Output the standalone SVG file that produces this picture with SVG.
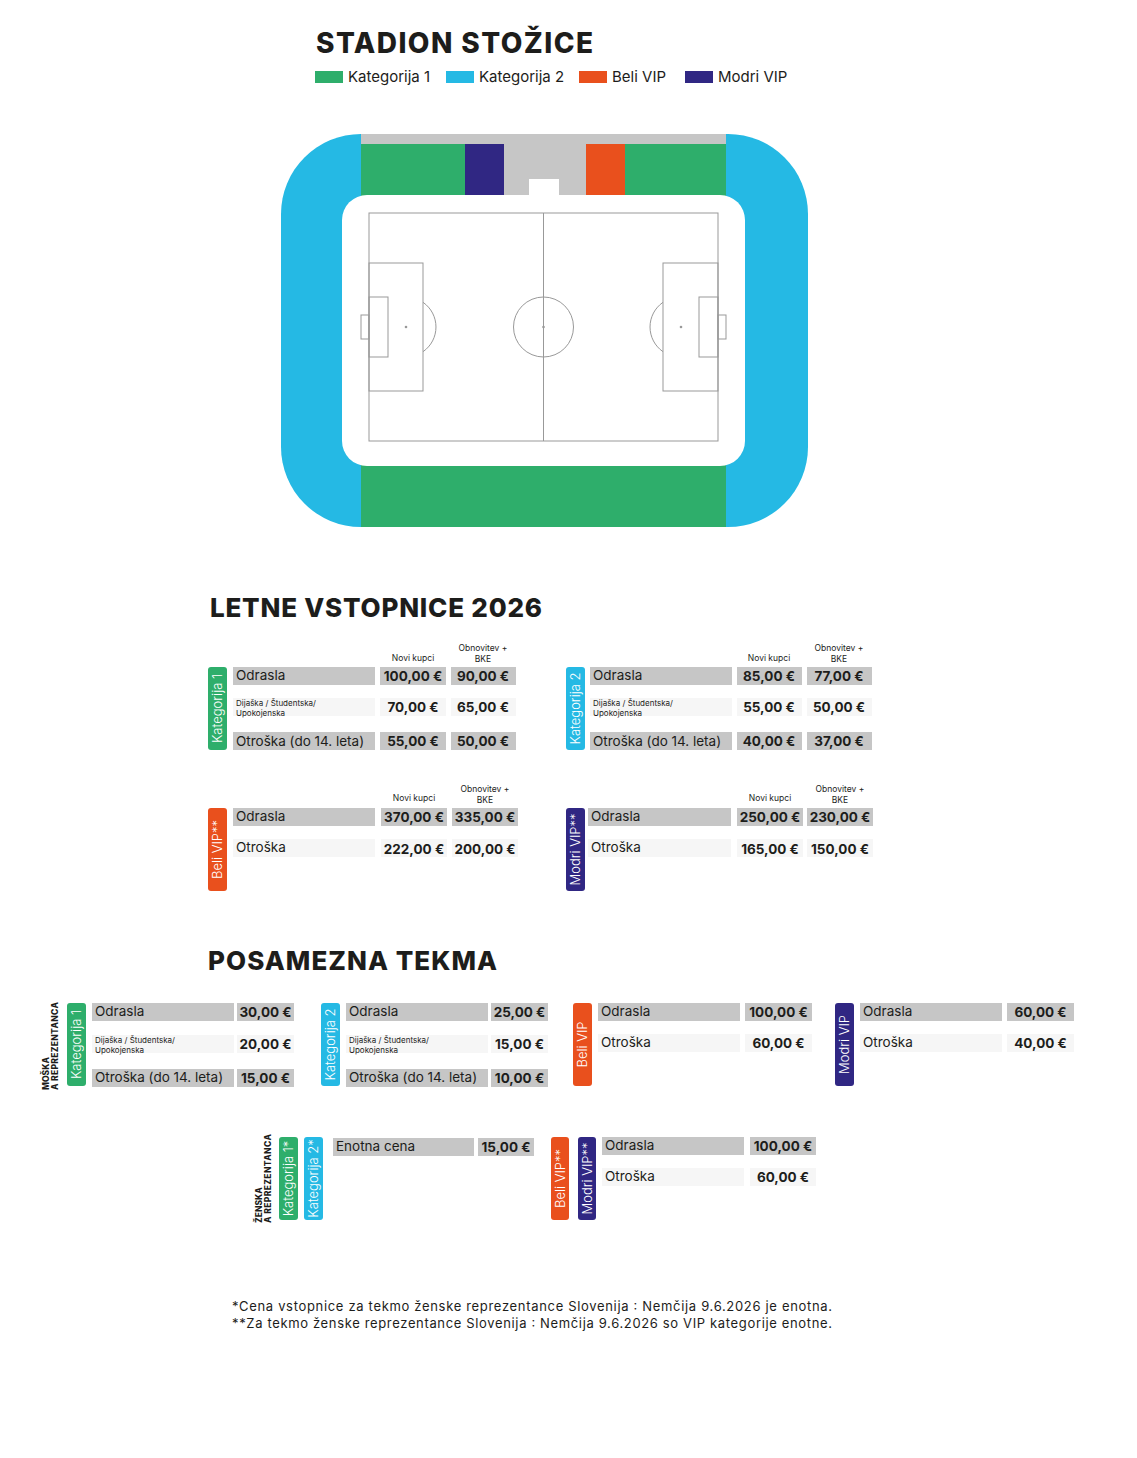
<svg xmlns="http://www.w3.org/2000/svg" width="1137" height="1458" viewBox="0 0 1137 1458">
<style>
text{font-family:"Inter","Liberation Sans",sans-serif;fill:#1d1d1b}
.t{font-weight:800;font-size:28px}
.lg{font-size:15px}
.g{fill:#c6c6c6}.l{fill:#f6f6f6}
.r{font-size:13.5px}
.s{font-size:8px}
.p{font-size:13.5px;font-weight:700;text-anchor:middle}
.h{font-size:8.5px;text-anchor:middle}
.pl{font-size:13px;fill:#fff;text-anchor:middle;font-weight:300}
.k1{fill:#2eae6b}.k2{fill:#25b9e4}.bv{fill:#e9501d}.mv{fill:#302783}
.pitch{fill:none;stroke:#999;stroke-width:1}
.f{font-size:13px}
.v{font-size:8.5px;font-weight:800}
</style>
<rect width="1137" height="1458" fill="#fff"/>
<text class="t" x="316" y="53" textLength="277">STADION STOŽICE</text>
<g id="legend">
<rect class="k1" x="315" y="71" width="28" height="12"/><text class="lg" x="348" y="82">Kategorija 1</text>
<rect class="k2" x="446" y="71" width="28" height="12"/><text class="lg" x="479" y="82">Kategorija 2</text>
<rect class="bv" x="579" y="71" width="28" height="12"/><text class="lg" x="612" y="82">Beli VIP</text>
<rect class="mv" x="685" y="71" width="28" height="12"/><text class="lg" x="718" y="82">Modri VIP</text>
</g>
<g id="stadium">
<rect class="k2" x="281" y="134" width="527" height="393" rx="80"/>
<rect class="k1" x="361" y="134" width="365" height="393"/>
<rect fill="#c6c6c6" x="361" y="134" width="365" height="10"/>
<rect class="mv" x="465" y="144" width="39" height="51"/>
<rect fill="#c6c6c6" x="504" y="144" width="82" height="51"/>
<rect fill="#fff" x="529" y="179" width="30" height="16"/>
<rect class="bv" x="586" y="144" width="39" height="51"/>
<rect fill="#fff" x="342" y="195" width="403" height="271" rx="25"/>
<g class="pitch">
<rect x="369" y="213" width="349" height="228"/>
<line x1="543.5" y1="213" x2="543.5" y2="441"/>
<circle cx="543.5" cy="327" r="30"/>
<rect x="369" y="263" width="54" height="128"/>
<rect x="369" y="297" width="19" height="60"/>
<rect x="361" y="315" width="8" height="24"/>
<path d="M423 302.3 A30 30 0 0 1 423 351.7"/>
<rect x="663" y="263" width="55" height="128"/>
<rect x="699" y="297" width="19" height="60"/>
<rect x="718" y="315" width="8" height="24"/>
<path d="M663 302.3 A30 30 0 0 0 663 351.7"/>
</g>
<circle cx="406" cy="327" r="1.3" fill="#999"/><circle cx="543.5" cy="327" r="1.3" fill="#999"/><circle cx="681" cy="327" r="1.3" fill="#999"/>
</g>
<text class="t" x="210" y="617" style="font-size:26px" textLength="332">LETNE VSTOPNICE 2026</text>
<g id="letne-k1">
<rect class="k1" x="208" y="667" width="19" height="83" rx="3"/><text class="pl" transform="translate(222,708.5) rotate(-90)">Kategorija 1</text>
<text class="h" x="413" y="661">Novi kupci</text><text class="h" x="483" y="651">Obnovitev +</text><text class="h" x="483" y="662">BKE</text>
<rect class="g" x="233" y="667" width="142" height="18"/><text class="r" x="236" y="680">Odrasla</text>
<rect class="g" x="380" y="667" width="66" height="18"/><text class="p" x="413" y="681">100,00 €</text>
<rect class="g" x="451" y="667" width="65" height="18"/><text class="p" x="483" y="681">90,00 €</text>
<rect class="l" x="233" y="698" width="142" height="18"/><text class="s" x="236" y="706">Dijaška / Študentska/</text><text class="s" x="236" y="716">Upokojenska</text>
<rect class="l" x="380" y="698" width="66" height="18"/><text class="p" x="413" y="712">70,00 €</text>
<rect class="l" x="451" y="698" width="65" height="18"/><text class="p" x="483" y="712">65,00 €</text>
<rect class="g" x="233" y="732" width="142" height="18"/><text class="r" x="236" y="746">Otroška (do 14. leta)</text>
<rect class="g" x="380" y="732" width="66" height="18"/><text class="p" x="413" y="746">55,00 €</text>
<rect class="g" x="451" y="732" width="65" height="18"/><text class="p" x="483" y="746">50,00 €</text>
</g>
<g id="letne-k2">
<rect class="k2" x="566" y="667" width="19" height="83" rx="3"/><text class="pl" transform="translate(580,708.5) rotate(-90)">Kategorija 2</text>
<text class="h" x="769" y="661">Novi kupci</text><text class="h" x="839" y="651">Obnovitev +</text><text class="h" x="839" y="662">BKE</text>
<rect class="g" x="590" y="667" width="142" height="18"/><text class="r" x="593" y="680">Odrasla</text>
<rect class="g" x="737" y="667" width="65" height="18"/><text class="p" x="769" y="681">85,00 €</text>
<rect class="g" x="807" y="667" width="65" height="18"/><text class="p" x="839" y="681">77,00 €</text>
<rect class="l" x="590" y="698" width="142" height="18"/><text class="s" x="593" y="706">Dijaška / Študentska/</text><text class="s" x="593" y="716">Upokojenska</text>
<rect class="l" x="737" y="698" width="65" height="18"/><text class="p" x="769" y="712">55,00 €</text>
<rect class="l" x="807" y="698" width="65" height="18"/><text class="p" x="839" y="712">50,00 €</text>
<rect class="g" x="590" y="732" width="142" height="18"/><text class="r" x="593" y="746">Otroška (do 14. leta)</text>
<rect class="g" x="737" y="732" width="65" height="18"/><text class="p" x="769" y="746">40,00 €</text>
<rect class="g" x="807" y="732" width="65" height="18"/><text class="p" x="839" y="746">37,00 €</text>
</g>
<g id="letne-beli">
<rect class="bv" x="208" y="808" width="19" height="83" rx="3"/><text class="pl" transform="translate(222,849.5) rotate(-90)">Beli VIP**</text>
<text class="h" x="414" y="801">Novi kupci</text><text class="h" x="485" y="792">Obnovitev +</text><text class="h" x="485" y="803">BKE</text>
<rect class="g" x="233" y="808" width="142" height="18"/><text class="r" x="236" y="821">Odrasla</text>
<rect class="g" x="381" y="808" width="66" height="18"/><text class="p" x="414" y="822">370,00 €</text>
<rect class="g" x="452" y="808" width="66" height="18"/><text class="p" x="485" y="822">335,00 €</text>
<rect class="l" x="233" y="839" width="142" height="18"/><text class="r" x="236" y="852">Otroška</text>
<rect class="l" x="381" y="839" width="66" height="18"/><text class="p" x="414" y="854">222,00 €</text>
<rect class="l" x="452" y="839" width="66" height="18"/><text class="p" x="485" y="854">200,00 €</text>
</g>
<g id="letne-modri">
<rect class="mv" x="566" y="808" width="19" height="83" rx="3"/><text class="pl" transform="translate(580,849.5) rotate(-90)">Modri VIP**</text>
<text class="h" x="770" y="801">Novi kupci</text><text class="h" x="840" y="792">Obnovitev +</text><text class="h" x="840" y="803">BKE</text>
<rect class="g" x="588" y="808" width="143" height="18"/><text class="r" x="591" y="821">Odrasla</text>
<rect class="g" x="737" y="808" width="66" height="18"/><text class="p" x="770" y="822">250,00 €</text>
<rect class="g" x="807" y="808" width="66" height="18"/><text class="p" x="840" y="822">230,00 €</text>
<rect class="l" x="588" y="839" width="143" height="18"/><text class="r" x="591" y="852">Otroška</text>
<rect class="l" x="737" y="839" width="66" height="18"/><text class="p" x="770" y="854">165,00 €</text>
<rect class="l" x="807" y="839" width="66" height="18"/><text class="p" x="840" y="854">150,00 €</text>
</g>
<text class="t" x="208" y="970" style="font-size:26px" textLength="289">POSAMEZNA TEKMA</text>
<text class="v" transform="translate(49,1090) rotate(-90)">MOŠKA</text>
<text class="v" transform="translate(58,1090) rotate(-90)" textLength="88">A REPREZENTANCA</text>
<g id="pos-k1">
<rect class="k1" x="67" y="1003" width="19" height="83" rx="3"/><text class="pl" transform="translate(81,1044.5) rotate(-90)">Kategorija 1</text>
<rect class="g" x="92" y="1003" width="142" height="18"/><text class="r" x="95" y="1016">Odrasla</text>
<rect class="g" x="237" y="1003" width="57" height="18"/><text class="p" x="265.5" y="1017">30,00 €</text>
<rect class="l" x="92" y="1035" width="142" height="18"/><text class="s" x="95" y="1043">Dijaška / Študentska/</text><text class="s" x="95" y="1053">Upokojenska</text>
<rect class="l" x="237" y="1035" width="57" height="18"/><text class="p" x="265.5" y="1049">20,00 €</text>
<rect class="g" x="92" y="1069" width="142" height="18"/><text class="r" x="95" y="1082">Otroška (do 14. leta)</text>
<rect class="g" x="237" y="1069" width="57" height="18"/><text class="p" x="265.5" y="1083">15,00 €</text>
</g>
<g id="pos-k2">
<rect class="k2" x="321" y="1003" width="19" height="83" rx="3"/><text class="pl" transform="translate(335,1044.5) rotate(-90)">Kategorija 2</text>
<rect class="g" x="346" y="1003" width="142" height="18"/><text class="r" x="349" y="1016">Odrasla</text>
<rect class="g" x="491" y="1003" width="57" height="18"/><text class="p" x="519.5" y="1017">25,00 €</text>
<rect class="l" x="346" y="1035" width="142" height="18"/><text class="s" x="349" y="1043">Dijaška / Študentska/</text><text class="s" x="349" y="1053">Upokojenska</text>
<rect class="l" x="491" y="1035" width="57" height="18"/><text class="p" x="519.5" y="1049">15,00 €</text>
<rect class="g" x="346" y="1069" width="142" height="18"/><text class="r" x="349" y="1082">Otroška (do 14. leta)</text>
<rect class="g" x="491" y="1069" width="57" height="18"/><text class="p" x="519.5" y="1083">10,00 €</text>
</g>
<g id="pos-beli">
<rect class="bv" x="573" y="1003" width="19" height="83" rx="3"/><text class="pl" transform="translate(587,1044.5) rotate(-90)">Beli VIP</text>
<rect class="g" x="598" y="1003" width="142" height="18"/><text class="r" x="601" y="1016">Odrasla</text>
<rect class="g" x="745" y="1003" width="67" height="18"/><text class="p" x="778.5" y="1017">100,00 €</text>
<rect class="l" x="598" y="1034" width="142" height="18"/><text class="r" x="601" y="1047">Otroška</text>
<rect class="l" x="745" y="1034" width="67" height="18"/><text class="p" x="778.5" y="1048">60,00 €</text>
</g>
<g id="pos-modri">
<rect class="mv" x="835" y="1003" width="19" height="83" rx="3"/><text class="pl" transform="translate(849,1044.5) rotate(-90)">Modri VIP</text>
<rect class="g" x="860" y="1003" width="142" height="18"/><text class="r" x="863" y="1016">Odrasla</text>
<rect class="g" x="1007" y="1003" width="67" height="18"/><text class="p" x="1040.5" y="1017">60,00 €</text>
<rect class="l" x="860" y="1034" width="142" height="18"/><text class="r" x="863" y="1047">Otroška</text>
<rect class="l" x="1007" y="1034" width="67" height="18"/><text class="p" x="1040.5" y="1048">40,00 €</text>
</g>
<text class="v" transform="translate(262,1223) rotate(-90)">ŽENSKA</text>
<text class="v" transform="translate(271,1223) rotate(-90)" textLength="89">A REPREZENTANCA</text>
<g id="zen-k">
<rect class="k1" x="279" y="1137" width="19" height="83" rx="3"/><text class="pl" transform="translate(293,1178.5) rotate(-90)">Kategorija 1*</text>
<rect class="k2" x="304" y="1137" width="19" height="83" rx="3"/><text class="pl" transform="translate(318,1178.5) rotate(-90)">Kategorija 2*</text>
<rect class="g" x="333" y="1138" width="141" height="18"/><text class="r" x="336" y="1151">Enotna cena</text>
<rect class="g" x="478" y="1138" width="56" height="18"/><text class="p" x="506" y="1152">15,00 €</text>
</g>
<g id="zen-vip">
<rect class="bv" x="551" y="1137" width="18" height="83" rx="3"/><text class="pl" transform="translate(565,1178.5) rotate(-90)">Beli VIP**</text>
<rect class="mv" x="578" y="1137" width="18" height="83" rx="3"/><text class="pl" transform="translate(592,1178.5) rotate(-90)">Modri VIP**</text>
<rect class="g" x="602" y="1137" width="142" height="18"/><text class="r" x="605" y="1150">Odrasla</text>
<rect class="g" x="750" y="1137" width="66" height="18"/><text class="p" x="783" y="1151">100,00 €</text>
<rect class="l" x="602" y="1168" width="142" height="18"/><text class="r" x="605" y="1181">Otroška</text>
<rect class="l" x="750" y="1168" width="66" height="18"/><text class="p" x="783" y="1182">60,00 €</text>
</g>
<text class="f" x="232" y="1311" textLength="600">*Cena vstopnice za tekmo ženske reprezentance Slovenija : Nemčija 9.6.2026 je enotna.</text>
<text class="f" x="232" y="1328" textLength="600">**Za tekmo ženske reprezentance Slovenija : Nemčija 9.6.2026 so VIP kategorije enotne.</text>
</svg>
